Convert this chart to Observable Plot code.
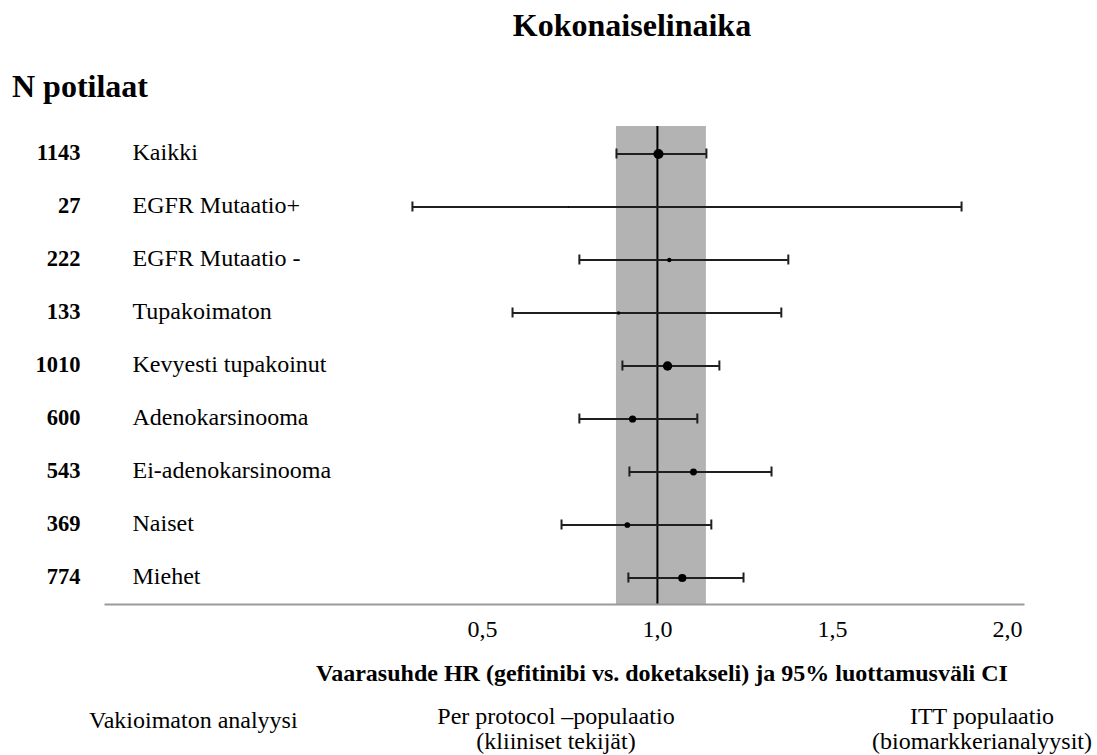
<!DOCTYPE html>
<html>
<head>
<meta charset="utf-8">
<script src="https://cdn.jsdelivr.net/npm/d3@7"></script>
<script src="https://cdn.jsdelivr.net/npm/@observablehq/plot@0.6"></script>
<style>
  html, body { margin: 0; padding: 0; background: #fff; }
  #wrap { position: relative; width: 1097px; height: 755px; overflow: hidden; font-family: "Liberation Serif", "Times New Roman", serif; color: #000; }
  #wrap svg { position: absolute; left: 0; top: 0; font-family: "Liberation Serif", "Times New Roman", serif; }
  #wrap svg text { font-family: "Liberation Serif", "Times New Roman", serif; }
  .t { position: absolute; white-space: nowrap; }
  .h { font-size: 32px; font-weight: bold; line-height: 32px; }
  .n { font-size: 24px; line-height: 24px; }
  .b { font-weight: bold; }
  .c { text-align: center; }
</style>
</head>
<body>
<div id="wrap">
  <div id="chart"></div>
  <div class="t h c" style="left:432px; width:400px; top:9px;">Kokonaiselinaika</div>
  <div class="t h" style="left:12px; top:70px;">N potilaat</div>
  <div class="t n b c" style="left:262px; width:800px; top:661px;">Vaarasuhde HR (gefitinibi vs. doketakseli) ja 95% luottamusväli CI</div>
  <div class="t n" style="left:89px; top:708px;">Vakioimaton analyysi</div>
  <div class="t n c" style="left:406px; width:300px; top:704px;">Per protocol –populaatio</div>
  <div class="t n c" style="left:406px; width:300px; top:729px;">(kliiniset tekijät)</div>
  <div class="t n c" style="left:832px; width:300px; top:704px;">ITT populaatio</div>
  <div class="t n c" style="left:832px; width:300px; top:729px;">(biomarkkerianalyysit)</div>
</div>
<script>
// ---- data ----
const groups = ["Kaikki", "EGFR Mutaatio+", "EGFR Mutaatio -", "Tupakoimaton", "Kevyesti tupakoinut", "Adenokarsinooma", "Ei-adenokarsinooma", "Naiset", "Miehet"];
const nPatients = [1143, 27, 222, 133, 1010, 600, 543, 369, 774];
const hr = [1.003, 0.746, 1.034, 0.889, 1.029, 0.929, 1.103, 0.914, 1.071];
const ciLow = [0.883, 0.300, 0.777, 0.586, 0.900, 0.777, 0.920, 0.726, 0.917];
const ciHigh = [1.140, 1.869, 1.374, 1.354, 1.177, 1.114, 1.326, 1.154, 1.246];
const xTicks = [0.5, 1.0, 1.5, 2.0];
const referenceHR = 1.0;

const rows = groups.map((g, i) => ({group: g, n: nPatients[i], hr: hr[i], lo: ciLow[i], hi: ciHigh[i]}));
const overall = [rows[0]];

const serif = "Liberation Serif, Times New Roman, serif";
const lineColor = "#1f1f1f";

const chart = Plot.plot({
  width: 1097,
  height: 755,
  marginLeft: 105,
  marginRight: 74,
  marginTop: 126,
  marginBottom: 151,
  style: {fontFamily: serif, background: "#fff", color: "#000"},
  x: {domain: [-0.577, 2.046]},
  y: {type: "band", domain: groups, padding: 0, axis: null},
  r: {domain: [0, 1143], range: [0, 5]},
  marks: [
    Plot.rect(overall, {x1: "lo", x2: "hi", fill: "#b3b3b3"}),
    Plot.ruleX([referenceHR], {stroke: "#000", strokeWidth: 2}),
    Plot.frame({anchor: "bottom", stroke: "#9a9a9a", strokeWidth: 2}),
    Plot.ruleY(rows, {y: "group", x1: "lo", x2: "hi", stroke: lineColor, strokeWidth: 2}),
    Plot.tickX(rows, {y: "group", x: "lo", stroke: lineColor, strokeWidth: 2, insetTop: 21.5, insetBottom: 21.5}),
    Plot.tickX(rows, {y: "group", x: "hi", stroke: lineColor, strokeWidth: 2, insetTop: 21.5, insetBottom: 21.5}),
    Plot.dot(rows, {y: "group", x: "hr", r: "n", fill: "#000", stroke: "none"}),
    Plot.text(rows, {y: "group", text: d => String(d.n), frameAnchor: "left", dx: -25, dy: -1, textAnchor: "end", fontSize: 22.5, fontWeight: "bold", fontFamily: serif, fill: "#000"}),
    Plot.text(rows, {y: "group", text: "group", frameAnchor: "left", dx: 27, dy: -2, textAnchor: "start", fontSize: 24, fontFamily: serif, fill: "#000"}),
    Plot.axisX({ticks: xTicks, tickFormat: d => d.toFixed(1).replace(".", ","), tickSize: 0, tickPadding: 15, fontSize: 24, fontFamily: serif, label: null, fill: "#000"})
  ]
});
document.getElementById("chart").appendChild(chart);
</script>
</body>
</html>
